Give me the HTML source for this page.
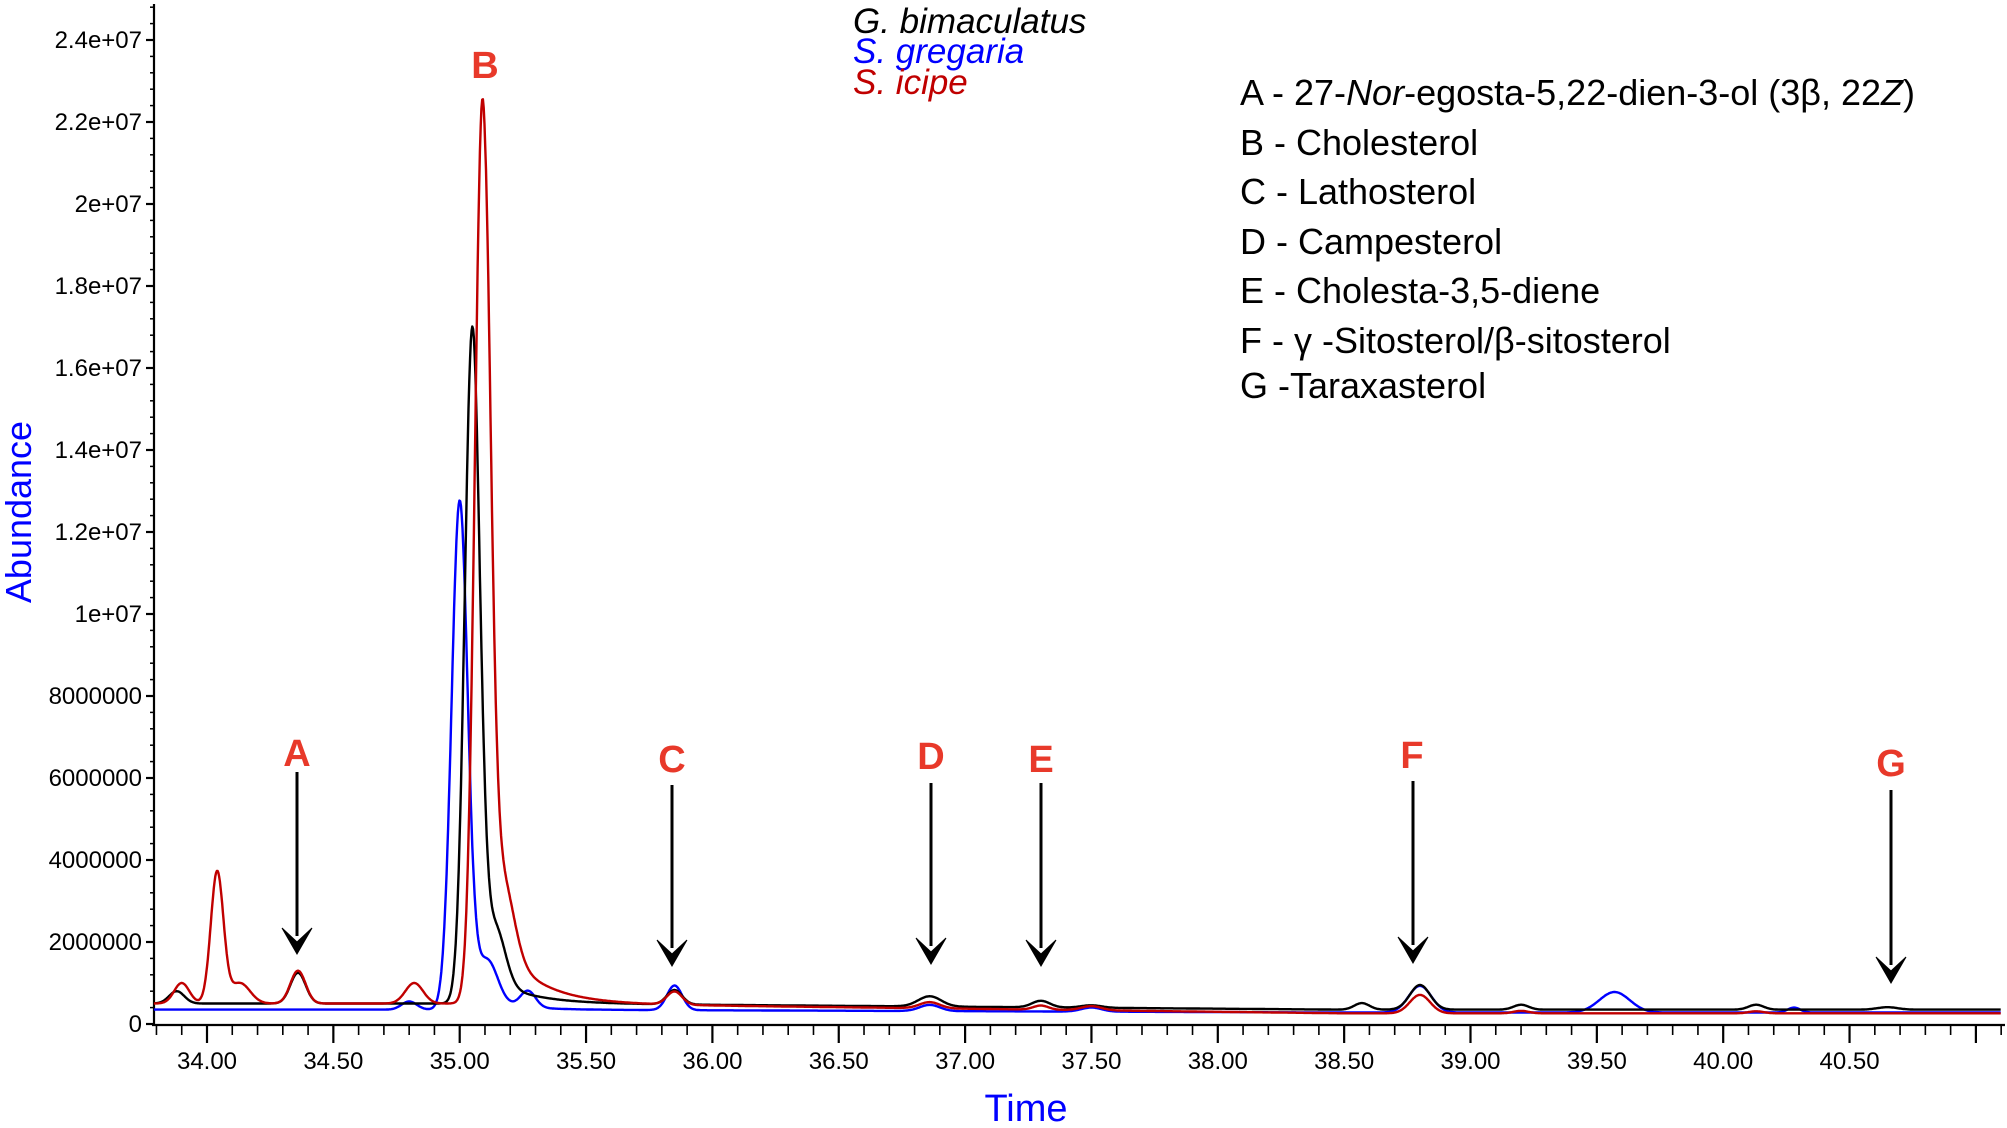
<!DOCTYPE html>
<html><head><meta charset="utf-8"><style>
html,body{margin:0;padding:0;background:#fff;}
svg{display:block;font-family:"Liberation Sans",Arial,sans-serif;}
</style></head><body>
<svg id="s" width="2007" height="1128" viewBox="0 0 2007 1128" xmlns="http://www.w3.org/2000/svg">
<g id="ax" stroke="#000" stroke-width="2.2" fill="none"></g>
<g id="lab" font-size="24" fill="#000"></g>
<g id="ser" fill="none" stroke-width="2.4" stroke-linejoin="round"></g>
<text x="1026" y="1121" font-size="38" fill="#0000ff" text-anchor="middle">Time</text>
<text transform="translate(31,512) rotate(-90)" font-size="36" fill="#0000ff" text-anchor="middle">Abundance</text>
<g font-size="35" font-style="italic">
<text x="853" y="33" fill="#000">G. bimaculatus</text>
<text x="853" y="63" fill="#0000ff">S. gregaria</text>
<text x="853" y="94" fill="#c00000">S. icipe</text>
</g>
<g font-size="36" fill="#000">
<text x="1240" y="105">A - 27-<tspan font-style="italic">Nor</tspan>-egosta-5,22-dien-3-ol (3β, 22<tspan font-style="italic">Z</tspan>)</text>
<text x="1240" y="155">B - Cholesterol</text>
<text x="1240" y="204">C - Lathosterol</text>
<text x="1240" y="254">D - Campesterol</text>
<text x="1240" y="303">E -  Cholesta-3,5-diene</text>
<text x="1240" y="353">F - γ -Sitosterol/β-sitosterol</text>
<text x="1240" y="398">G -Taraxasterol</text>
</g>
<g font-size="38" font-weight="bold" fill="#e8392a" text-anchor="middle">
<text x="485" y="78">B</text>
<text x="297" y="766">A</text>
<text x="672" y="772">C</text>
<text x="931" y="769">D</text>
<text x="1041" y="772">E</text>
<text x="1412" y="768">F</text>
<text x="1891" y="776">G</text>
</g>
<g id="arr" stroke="#000" stroke-width="3"></g>
</svg>
<script>
var NS="http://www.w3.org/2000/svg";
function el(p,t,a,txt){var e=document.createElementNS(NS,t);for(var k in a)e.setAttribute(k,a[k]);if(txt!==undefined)e.textContent=txt;document.getElementById(p).appendChild(e);return e;}
function X(t){return 207+(t-34)*252.7;}
function Y(v){return 1024-v*4.1e-5;}
el("ax","line",{x1:154,y1:4,x2:154,y2:1026});
el("ax","line",{x1:152,y1:1025,x2:2005,y2:1025});
for(var v=0;v<=24.8e6;v+=4e5){var y=Y(v);var maj=Math.abs(v/2e6-Math.round(v/2e6))<1e-6;el("ax","line",{x1:maj?146:150,y1:y,x2:154,y2:y,"stroke-width":maj?2.2:1.5});}
var yl=["0","2000000","4000000","6000000","8000000","1e+07","1.2e+07","1.4e+07","1.6e+07","1.8e+07","2e+07","2.2e+07","2.4e+07"];
for(var i=0;i<yl.length;i++)el("lab","text",{x:142,y:Y(i*2e6)+8,"text-anchor":"end"},yl[i]);
for(var k=338;k<=412;k++){var t=k/10;var x=X(t);if(x<155||x>2005)continue;var maj=k%5==0;el("ax","line",{x1:x,y1:1025,x2:x,y2:maj?1043:1035,"stroke-width":maj?2.2:1.6});
if(maj&&k<=405)el("lab","text",{x:x,y:1069,"text-anchor":"middle"},(t).toFixed(2));}
[[297,772,954],[672,785,966],[931,783,964],[1041,783,966],[1413,781,963],[1891,790,983]].forEach(function(a){
el("arr","line",{x1:a[0],y1:a[1],x2:a[0],y2:a[2]-18});
el("arr","path",{d:"M"+(a[0]-15)+" "+(a[2]-26)+" L"+a[0]+" "+(a[2]-12)+" L"+(a[0]+15)+" "+(a[2]-26)+" L"+a[0]+" "+a[2]+" Z",fill:"#000","stroke-width":1});
});
function g(t,c,a,s){return a*Math.exp(-0.5*Math.pow((t-c)/s,2));}
function tail(t,c,a,tau){return t<c?0:a*Math.exp(-(t-c)/tau)*(1-Math.exp(-(t-c)/0.03));}
function base(t,b0,b1,t0,t1){if(t<t0)return b0;if(t>t1)return b1;return b0+(b1-b0)*(t-t0)/(t1-t0);}
function red(t){var b=base(t,5e5,2.6e5,35.3,38.5);
return b+g(t,33.9,5e5,0.03)+g(t,34.04,3.2e6,0.025)+g(t,34.13,5e5,0.04)+g(t,34.36,8e5,0.03)+g(t,34.82,5e5,0.035)+g(t,35.09,2.17e7,0.03)+g(t,35.17,1.8e6,0.045)+tail(t,35.1,2.2e6,0.15)+g(t,35.85,3.2e5,0.03)+g(t,36.86,1.5e5,0.04)+g(t,37.3,1e5,0.03)+g(t,37.5,1e5,0.04)+g(t,38.8,4.5e5,0.04)+g(t,39.2,6e4,0.03)+g(t,40.13,5e4,0.03);}
function blue(t){var b=base(t,3.5e5,2.8e5,35.3,38.5);
return b+g(t,34.8,2e5,0.03)+g(t,35.0,1.24e7,0.032)+g(t,35.11,1.0e6,0.04)+g(t,35.27,4e5,0.03)+tail(t,35.05,4e5,0.12)+g(t,35.85,6e5,0.03)+g(t,36.86,1.5e5,0.04)+g(t,37.5,1e5,0.04)+g(t,38.8,6.5e5,0.045)+g(t,39.57,5e5,0.06)+g(t,40.28,1.2e5,0.025);}
function black(t){var b=base(t,5e5,3.5e5,35.3,38.5);
return b+g(t,33.88,3e5,0.03)+g(t,34.36,7.5e5,0.03)+g(t,35.05,1.64e7,0.03)+g(t,35.14,1.4e6,0.04)+tail(t,35.08,8e5,0.15)+g(t,35.85,3.5e5,0.03)+g(t,36.86,2.5e5,0.045)+g(t,37.3,1.6e5,0.035)+g(t,37.5,6e4,0.04)+g(t,38.57,1.6e5,0.03)+g(t,38.8,6e5,0.04)+g(t,39.2,1.2e5,0.03)+g(t,40.13,1.2e5,0.03)+g(t,40.65,6e4,0.04);}
function path(f,col){var d="";for(var t=33.79;t<=41.1;t+=0.003){d+=(d?"L":"M")+X(t).toFixed(1)+" "+Y(f(t)).toFixed(1);}el("ser","path",{d:d,stroke:col});}
path(blue,"#0000ff");path(black,"#000");path(red,"#c00000");
</script>
</body></html>
